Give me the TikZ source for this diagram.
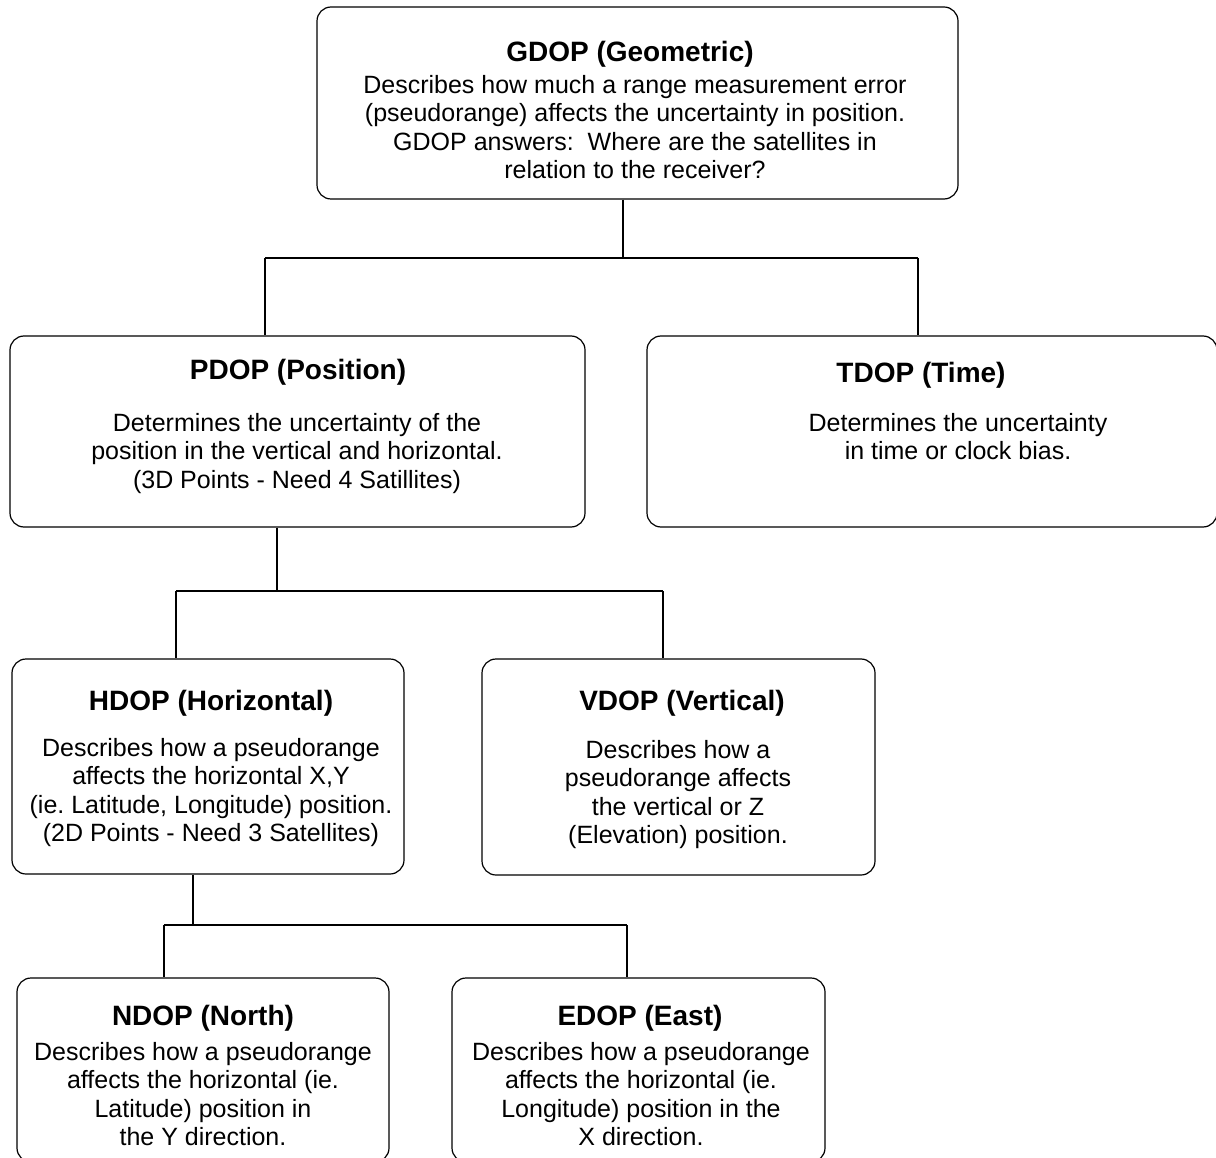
\documentclass[tikz,border=0pt]{standalone}
\usepackage{fontspec}
\setmainfont{Liberation Sans}
\frenchspacing
\begin{document}
\begin{tikzpicture}[x=1pt,y=1pt,
  box/.style={draw=black, line width=1.2pt, rounded corners=14pt, inner sep=0pt},
  ttl/.style={font=\fontsize{28}{32}\selectfont\bfseries, anchor=base, inner sep=0pt},
  bdy/.style={font=\fontsize{25}{28.5}\selectfont\frenchspacing, align=center, anchor=north, inner sep=0pt},
  conn/.style={draw=black, line width=1.2pt}]
\useasboundingbox (0,0) rectangle (1216,-1158);

% boxes
\node[box, minimum width=641, minimum height=192] (g) at (637.5,-103) {};
\node[box, minimum width=575, minimum height=191] (p) at (297.5,-431.5) {};
\node[box, minimum width=570, minimum height=191] (t) at (932,-431.5) {};
\node[box, minimum width=392, minimum height=215] (h) at (208,-766.5) {};
\node[box, minimum width=393, minimum height=216] (v) at (678.5,-767) {};
\node[box, minimum width=372, minimum height=184] (n) at (203,-1070) {};
\node[box, minimum width=373, minimum height=184] (e) at (638.5,-1070) {};

% texts
\node[ttl] (gt) at (630,-62) {GDOP (Geometric)};
\node[bdy] (gb) at (635,-75) {Describes how much a range measurement error\\(pseudorange) affects the uncertainty in position.\\GDOP answers:\ \ Where are the satellites in\\relation to the receiver?};

\node[ttl] (pt) at (298,-380) {PDOP (Position)};
\node[bdy] (pb) at (297,-413) {Determines the uncertainty of the\\position in the vertical and horizontal.\\(3D Points - Need 4 Satillites)};

\node[ttl] (tt) at (921,-382) {TDOP (Time)};
\node[bdy] (tb) at (958,-413) {Determines the uncertainty\\in time or clock bias.};

\node[ttl] (ht) at (211,-710) {HDOP (Horizontal)};
\node[bdy] (hb) at (211,-738) {Describes how a pseudorange\\affects the horizontal X,Y\\(ie. Latitude, Longitude) position.\\(2D Points - Need 3 Satellites)};

\node[ttl] (vt) at (682,-710) {VDOP (Vertical)};
\node[bdy] (vb) at (678,-740) {Describes how a\\pseudorange affects\\the vertical or Z\\(Elevation) position.};

\node[ttl] (nt) at (203,-1025) {NDOP (North)};
\node[bdy] (nb) at (203,-1042) {Describes how a pseudorange\\affects the horizontal (ie.\\Latitude) position in\\the Y direction.};

\node[ttl] (et) at (640,-1025) {EDOP (East)};
\node[bdy] (eb) at (641,-1042) {Describes how a pseudorange\\affects the horizontal (ie.\\Longitude) position in the\\X direction.};

% connector junctions
\coordinate (j1) at (623,-258);
\coordinate (j1l) at (265,-258);
\coordinate (j1r) at (918,-258);
\coordinate (j2) at (277,-591);
\coordinate (j2l) at (176,-591);
\coordinate (j2r) at (663,-591);
\coordinate (j3) at (193,-925);
\coordinate (j3l) at (164,-925);
\coordinate (j3r) at (627,-925);

\draw[conn] (j1 |- g.south) -- (j1);
\draw[conn] (j1l) -- (j1r);
\draw[conn] (j1l) -- (j1l |- p.north);
\draw[conn] (j1r) -- (j1r |- t.north);

\draw[conn] (j2 |- p.south) -- (j2);
\draw[conn] (j2l) -- (j2r);
\draw[conn] (j2l) -- (j2l |- h.north);
\draw[conn] (j2r) -- (j2r |- v.north);

\draw[conn] (j3 |- h.south) -- (j3);
\draw[conn] (j3l) -- (j3r);
\draw[conn] (j3l) -- (j3l |- n.north);
\draw[conn] (j3r) -- (j3r |- e.north);
\end{tikzpicture}
\end{document}
